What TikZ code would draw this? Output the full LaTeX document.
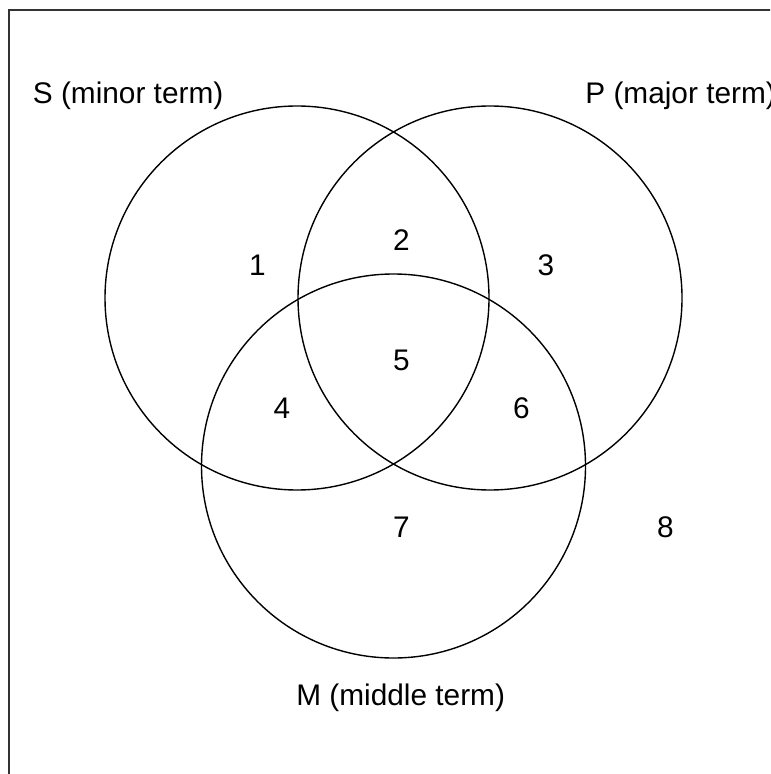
\documentclass[tikz,border=0pt]{standalone}
\usepackage{fontspec}
\setmainfont{Liberation Sans}
\definecolor{framegray}{HTML}{333333}

\begin{document}
\begin{tikzpicture}[x=0.5pt,y=-0.5pt,
  every node/.style={inner sep=0pt,font=\fontsize{14.9}{17}\selectfont},
  setline/.style={line width=0.7pt,black},
  region/.style={anchor=center}]
\useasboundingbox (0,0) rectangle (770,774);
\clip (0,0) rectangle (770,774);
% frame
\draw[line width=0.7pt, framegray] (9,800) -- (9,10) -- (800,10);
% the three sets
\draw[setline] (297,298) circle (192);
\draw[setline] (490,298) circle (192);
\draw[setline] (393.5,466) circle (192);
% set names
\node[anchor=base west] (nameS) at (32.5,104) {S (minor term)};
\node[anchor=base west] (nameP) at (585,104) {P (major term)};
\node[anchor=base west] (nameM) at (296,705) {M (middle term)};
% regions
\node[region] (r1) at (257.5,265) {1};
\node[region] (r2) at (401.5,240) {2};
\node[region] (r3) at (546,265) {3};
\node[region] (r4) at (282,408) {4};
\node[region] (r5) at (401.5,360) {5};
\node[region] (r6) at (521.5,408) {6};
\node[region] (r7) at (401.5,527.5) {7};
\node[region] (r8) at (665.5,527.5) {8};
\end{tikzpicture}
\end{document}
